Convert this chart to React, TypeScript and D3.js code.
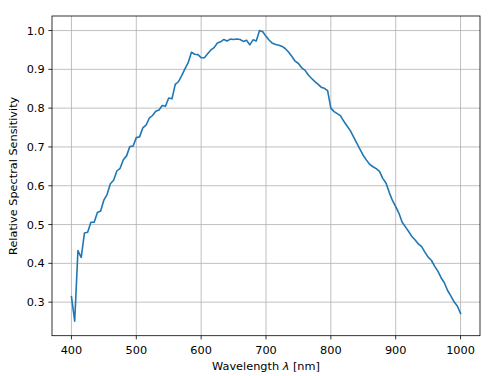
import React from "react";
import * as d3 from "d3";

const wavelengths: number[] = d3.range(400, 1001, 5);
const sensitivity: number[] = [
  0.314, 0.251, 0.433, 0.415, 0.478, 0.48, 0.506, 0.506, 0.531, 0.535,
  0.563, 0.578, 0.605, 0.614, 0.638, 0.645, 0.667, 0.677, 0.701, 0.702,
  0.724, 0.726, 0.749, 0.756, 0.774, 0.781, 0.792, 0.795, 0.807, 0.805,
  0.826, 0.824, 0.861, 0.868, 0.884, 0.901, 0.917, 0.944, 0.939, 0.938,
  0.93, 0.93, 0.94, 0.95, 0.956, 0.968, 0.971, 0.977, 0.973, 0.978,
  0.977, 0.978, 0.977, 0.972, 0.975, 0.963, 0.976, 0.973, 1.0, 0.997,
  0.985, 0.975, 0.967, 0.964, 0.962, 0.959, 0.953, 0.944, 0.933, 0.921,
  0.915, 0.904, 0.898, 0.886, 0.877, 0.869, 0.862, 0.854, 0.851, 0.845,
  0.8, 0.791, 0.786, 0.78, 0.766, 0.754, 0.742, 0.726, 0.71, 0.694,
  0.678, 0.666, 0.655, 0.649, 0.644, 0.637, 0.619, 0.607, 0.583, 0.562,
  0.546, 0.529, 0.506, 0.494, 0.482, 0.469, 0.46, 0.45, 0.443, 0.429,
  0.416, 0.408, 0.393, 0.38, 0.363, 0.35, 0.33, 0.316, 0.301, 0.29,
  0.271,
];
const xTicks: number[] = [400, 500, 600, 700, 800, 900, 1000];
const yTicks: number[] = [0.3, 0.4, 0.5, 0.6, 0.7, 0.8, 0.9, 1.0];

const W = 492;
const H = 376;
const L = 52;
const T = 16;
const R = 480;
const B = 335.7;
const FS = 11.3;

export default function App() {
  const xmin = d3.min(wavelengths)!;
  const xmax = d3.max(wavelengths)!;
  const ymin = d3.min(sensitivity)!;
  const ymax = d3.max(sensitivity)!;
  const xm = (xmax - xmin) * 0.05;
  const ym = (ymax - ymin) * 0.05;
  const x = d3.scaleLinear().domain([xmin - xm, xmax + xm]).range([L, R]);
  const y = d3.scaleLinear().domain([ymin - ym, ymax + ym]).range([B, T]);
  const pts: [number, number][] = wavelengths.map((w, i) => [w, sensitivity[i]]);
  const line = d3
    .line<[number, number]>()
    .x((d) => x(d[0]))
    .y((d) => y(d[1]));
  const font = "DejaVu Sans, sans-serif";
  return (
    <svg
      width={W}
      height={H}
      style={{ position: "absolute", left: 0, top: 0, background: "#fff" }}
      fontFamily={font}
    >
      <rect x={0} y={0} width={W} height={H} fill="#fff" />
      {xTicks.map((t) => (
        <line key={"gx" + t} x1={x(t)} x2={x(t)} y1={T} y2={B} stroke="#b0b0b0" strokeWidth={0.8} />
      ))}
      {yTicks.map((t) => (
        <line key={"gy" + t} x1={L} x2={R} y1={y(t)} y2={y(t)} stroke="#b0b0b0" strokeWidth={0.8} />
      ))}
      <path d={line(pts)!} fill="none" stroke="#1f77b4" strokeWidth={1.6} strokeLinejoin="round" strokeLinecap="square" />
      <rect x={L} y={T} width={R - L} height={B - T} fill="none" stroke="#000" strokeWidth={0.8} />
      {xTicks.map((t) => (
        <g key={"tx" + t}>
          <line x1={x(t)} x2={x(t)} y1={B} y2={B + 3.7} stroke="#000" strokeWidth={0.8} />
          <text x={x(t)} y={354} textAnchor="middle" fontSize={FS} fill="#000">
            {t}
          </text>
        </g>
      ))}
      {yTicks.map((t) => (
        <g key={"ty" + t}>
          <line x1={L - 3.7} x2={L} y1={y(t)} y2={y(t)} stroke="#000" strokeWidth={0.8} />
          <text x={L - 7.4} y={y(t)} dy="0.36em" textAnchor="end" fontSize={FS} fill="#000">
            {t.toFixed(1)}
          </text>
        </g>
      ))}
      <text x={(L + R) / 2} y={370} textAnchor="middle" fontSize={FS} fill="#000">
        Wavelength <tspan fontStyle="italic">λ</tspan> [nm]
      </text>
      <text
        transform={`translate(17,${(T + B) / 2}) rotate(-90)`}
        textAnchor="middle"
        fontSize={FS}
        fill="#000"
      >
        Relative Spectral Sensitivity
      </text>
    </svg>
  );
}
